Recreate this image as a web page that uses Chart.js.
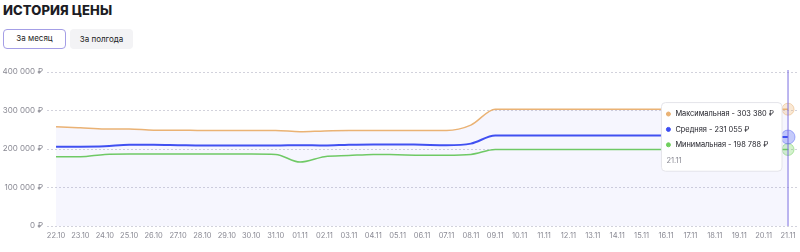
<!DOCTYPE html>
<html>
<head>
<meta charset="utf-8">
<script src="https://cdn.jsdelivr.net/npm/chart.js@4"></script>
<style>
  body { margin: 0; width: 800px; height: 252px; background: #fff; font-family: Inter, sans-serif; position: relative; overflow: hidden; }
  h2 { position: absolute; left: 3px; top: 2px; margin: 0; font-size: 13px; font-weight: 800; color: #1c1c24; letter-spacing: 0.1px; }
  .btn { position: absolute; top: 29px; height: 20px; width: 63px; box-sizing: border-box; border-radius: 4px; font-size: 8px; line-height: 20px; text-align: center; color: #222; }
  .on { left: 3px; border: 1.5px solid #a49ee6; line-height: 17px; background: #fff; }
  .off { left: 70px; background: #f3f3f5; }
  #wrap { position: absolute; left: 0; top: 60px; width: 800px; height: 192px; }
</style>
</head>
<body>
<h2>ИСТОРИЯ ЦЕНЫ</h2>
<div class="btn on">За месяц</div>
<div class="btn off">За полгода</div>
<div id="wrap"><canvas id="chart-price"></canvas></div>
<script>
let dias=["22.10","23.10","24.10","25.10","26.10","27.10","28.10","29.10","30.10","31.10",
  "01.11","02.11","03.11","04.11","05.11","06.11","07.11","08.11","09.11","10.11",
  "11.11","12.11","13.11","14.11","15.11","16.11","17.11","18.11","19.11","20.11","21.11"]
let preco_max=[258000,255000,252000,252000,249000,249000,248000,248000,248000,248000,
  245000,247000,248000,248000,248000,248000,248000,262000,303380,303380,
  303380,303380,303380,303380,303380,303380,303380,303380,303380,303380,303380]
let preco_med=[206000,206000,207000,211000,211000,210000,209000,209000,209000,209000,
  210000,209000,211000,212000,212000,211000,210000,214000,235000,235000,
  235000,235000,235000,235000,235000,235000,231055,231055,231055,231055,231055]
let preco_min=[180000,180000,186000,187000,187000,187000,187000,187000,187000,186000,
  166000,180000,183000,186000,185000,184000,184000,186000,198788,198788,
  198788,198788,198788,198788,198788,198788,198788,198788,198788,198788,198788]
let y_ticks=[0,100000,200000,300000,400000]

function rub(v){ return String(Math.round(v)).replace(/\B(?=(\d{3})+(?!\d))/g,' ')+' ₽' }
function pts(arr){ return arr.map((v,i)=>({x:i,y:v})) }

// tooltip a esquerda do ponto, um pouco abaixo da media
Chart.Tooltip.positioners.aoLado = function(items) {
  if (!items.length) return false
  var y = items.reduce((s, it) => s + it.element.y, 0) / items.length
  return { x: items[0].element.x, y: y + 5 }
}

var linhaVertical = {
  id: 'linhaVertical',
  afterDatasetsDraw(chart) {
    var act = chart.getActiveElements()
    if (!act.length) return
    var ctx = chart.ctx, x = act[0].element.x
    ctx.save()
    ctx.strokeStyle = '#7a6ee0'
    ctx.lineWidth = 1
    ctx.beginPath()
    ctx.moveTo(x, chart.chartArea.top - 2)
    ctx.lineTo(x, chart.chartArea.bottom)
    ctx.stroke()
    ctx.restore()
  }
}

var ctx = document.getElementById('chart-price').getContext('2d')

var chart = new Chart(ctx, {
  type: 'line',
  data: {
    datasets: [{
      label: 'Максимальная',
      data: pts(preco_max),
      borderColor: '#eab274',
      borderWidth: 1.5,
      fill: 'origin',
      backgroundColor: 'rgba(120,120,235,0.065)',
      pointRadius: 0,
      pointHoverRadius: 6,
      pointHoverBorderWidth: 1,
      pointHoverBackgroundColor: 'rgba(234,178,116,0.3)',
      pointHoverBorderColor: 'rgba(234,178,116,0.5)',
      cubicInterpolationMode: 'monotone'
    }, {
      label: 'Средняя',
      data: pts(preco_med),
      borderColor: '#3d4ef2',
      borderWidth: 2,
      fill: false,
      pointRadius: 0,
      pointHoverRadius: 7,
      pointHoverBorderWidth: 1,
      pointHoverBackgroundColor: 'rgba(61,78,242,0.3)',
      pointHoverBorderColor: 'rgba(61,78,242,0.4)',
      cubicInterpolationMode: 'monotone'
    }, {
      label: 'Минимальная',
      data: pts(preco_min),
      borderColor: '#6fcf5c',
      borderWidth: 1.5,
      fill: false,
      pointRadius: 0,
      pointHoverRadius: 6,
      pointHoverBorderWidth: 1,
      pointHoverBackgroundColor: 'rgba(111,207,92,0.3)',
      pointHoverBorderColor: 'rgba(111,207,92,0.5)',
      cubicInterpolationMode: 'monotone'
    }]
  },
  options: {
    responsive: true,
    maintainAspectRatio: false,
    animation: false,
    events: [],
    layout: { padding: { top: 12, right: 0, left: 0, bottom: 0 } },
    interaction: { mode: 'index', intersect: false },
    scales: {
      x: {
        type: 'linear',
        min: -0.37,
        max: 30.45,
        afterBuildTicks(scale) { scale.ticks = dias.map((d,i)=>({value:i})) },
        afterFit(scale) { scale.height = 26 },
        grid: { display: false },
        border: { display: false },
        ticks: {
          autoSkip: false, maxRotation: 0, padding: -3,
          color: '#8a8a94', font: { family: 'Inter', size: 7.5 },
          callback: (v) => dias[v]
        }
      },
      y: {
        min: 0,
        max: 400000,
        afterBuildTicks(scale) { scale.ticks = y_ticks.map(v=>({value:v})) },
        afterFit(scale) { scale.width = 47 },
        grid: { color: '#d2d2dc', drawTicks: false },
        border: { display: false, dash: [2, 2] },
        ticks: {
          padding: 4,
          color: '#8a8a94', font: { family: 'Inter', size: 8 },
          callback: (v) => rub(v)
        }
      }
    },
    plugins: {
      legend: { display: false },
      tooltip: {
        enabled: true,
        position: 'aoLado',
        backgroundColor: '#ffffff',
        borderColor: '#e4e4ea',
        borderWidth: 1,
        cornerRadius: 4,
        caretSize: 0,
        caretPadding: 7,
        xAlign: 'right',
        yAlign: 'center',
        padding: { left: 5, right: 8, top: 7, bottom: 6 },
        displayColors: true,
        usePointStyle: true,
        boxWidth: 4,
        boxHeight: 4,
        boxPadding: 3,
        bodyColor: '#22222a',
        bodyFont: { family: 'Inter', size: 7.4 },
        bodySpacing: 6.5,
        footerColor: '#8a8a94',
        footerFont: { family: 'Inter', size: 7.5, weight: 'normal' },
        footerMarginTop: 7,
        callbacks: {
          title: () => '',
          label: (c) => c.dataset.label + ' - ' + rub(c.parsed.y),
          labelColor: (c) => ({ borderColor: c.dataset.borderColor, backgroundColor: c.dataset.borderColor }),
          labelPointStyle: () => ({ pointStyle: 'circle', rotation: 0 }),
          footer: (items) => dias[items[0].dataIndex]
        }
      }
    }
  },
  plugins: [linhaVertical]
})

var idx = dias.length - 1
var ativos = [0,1,2].map(d => ({ datasetIndex: d, index: idx }))
chart.setActiveElements(ativos)
chart.tooltip.setActiveElements(ativos, { x: 0, y: 0 })
chart.update()
</script>
</body>
</html>
